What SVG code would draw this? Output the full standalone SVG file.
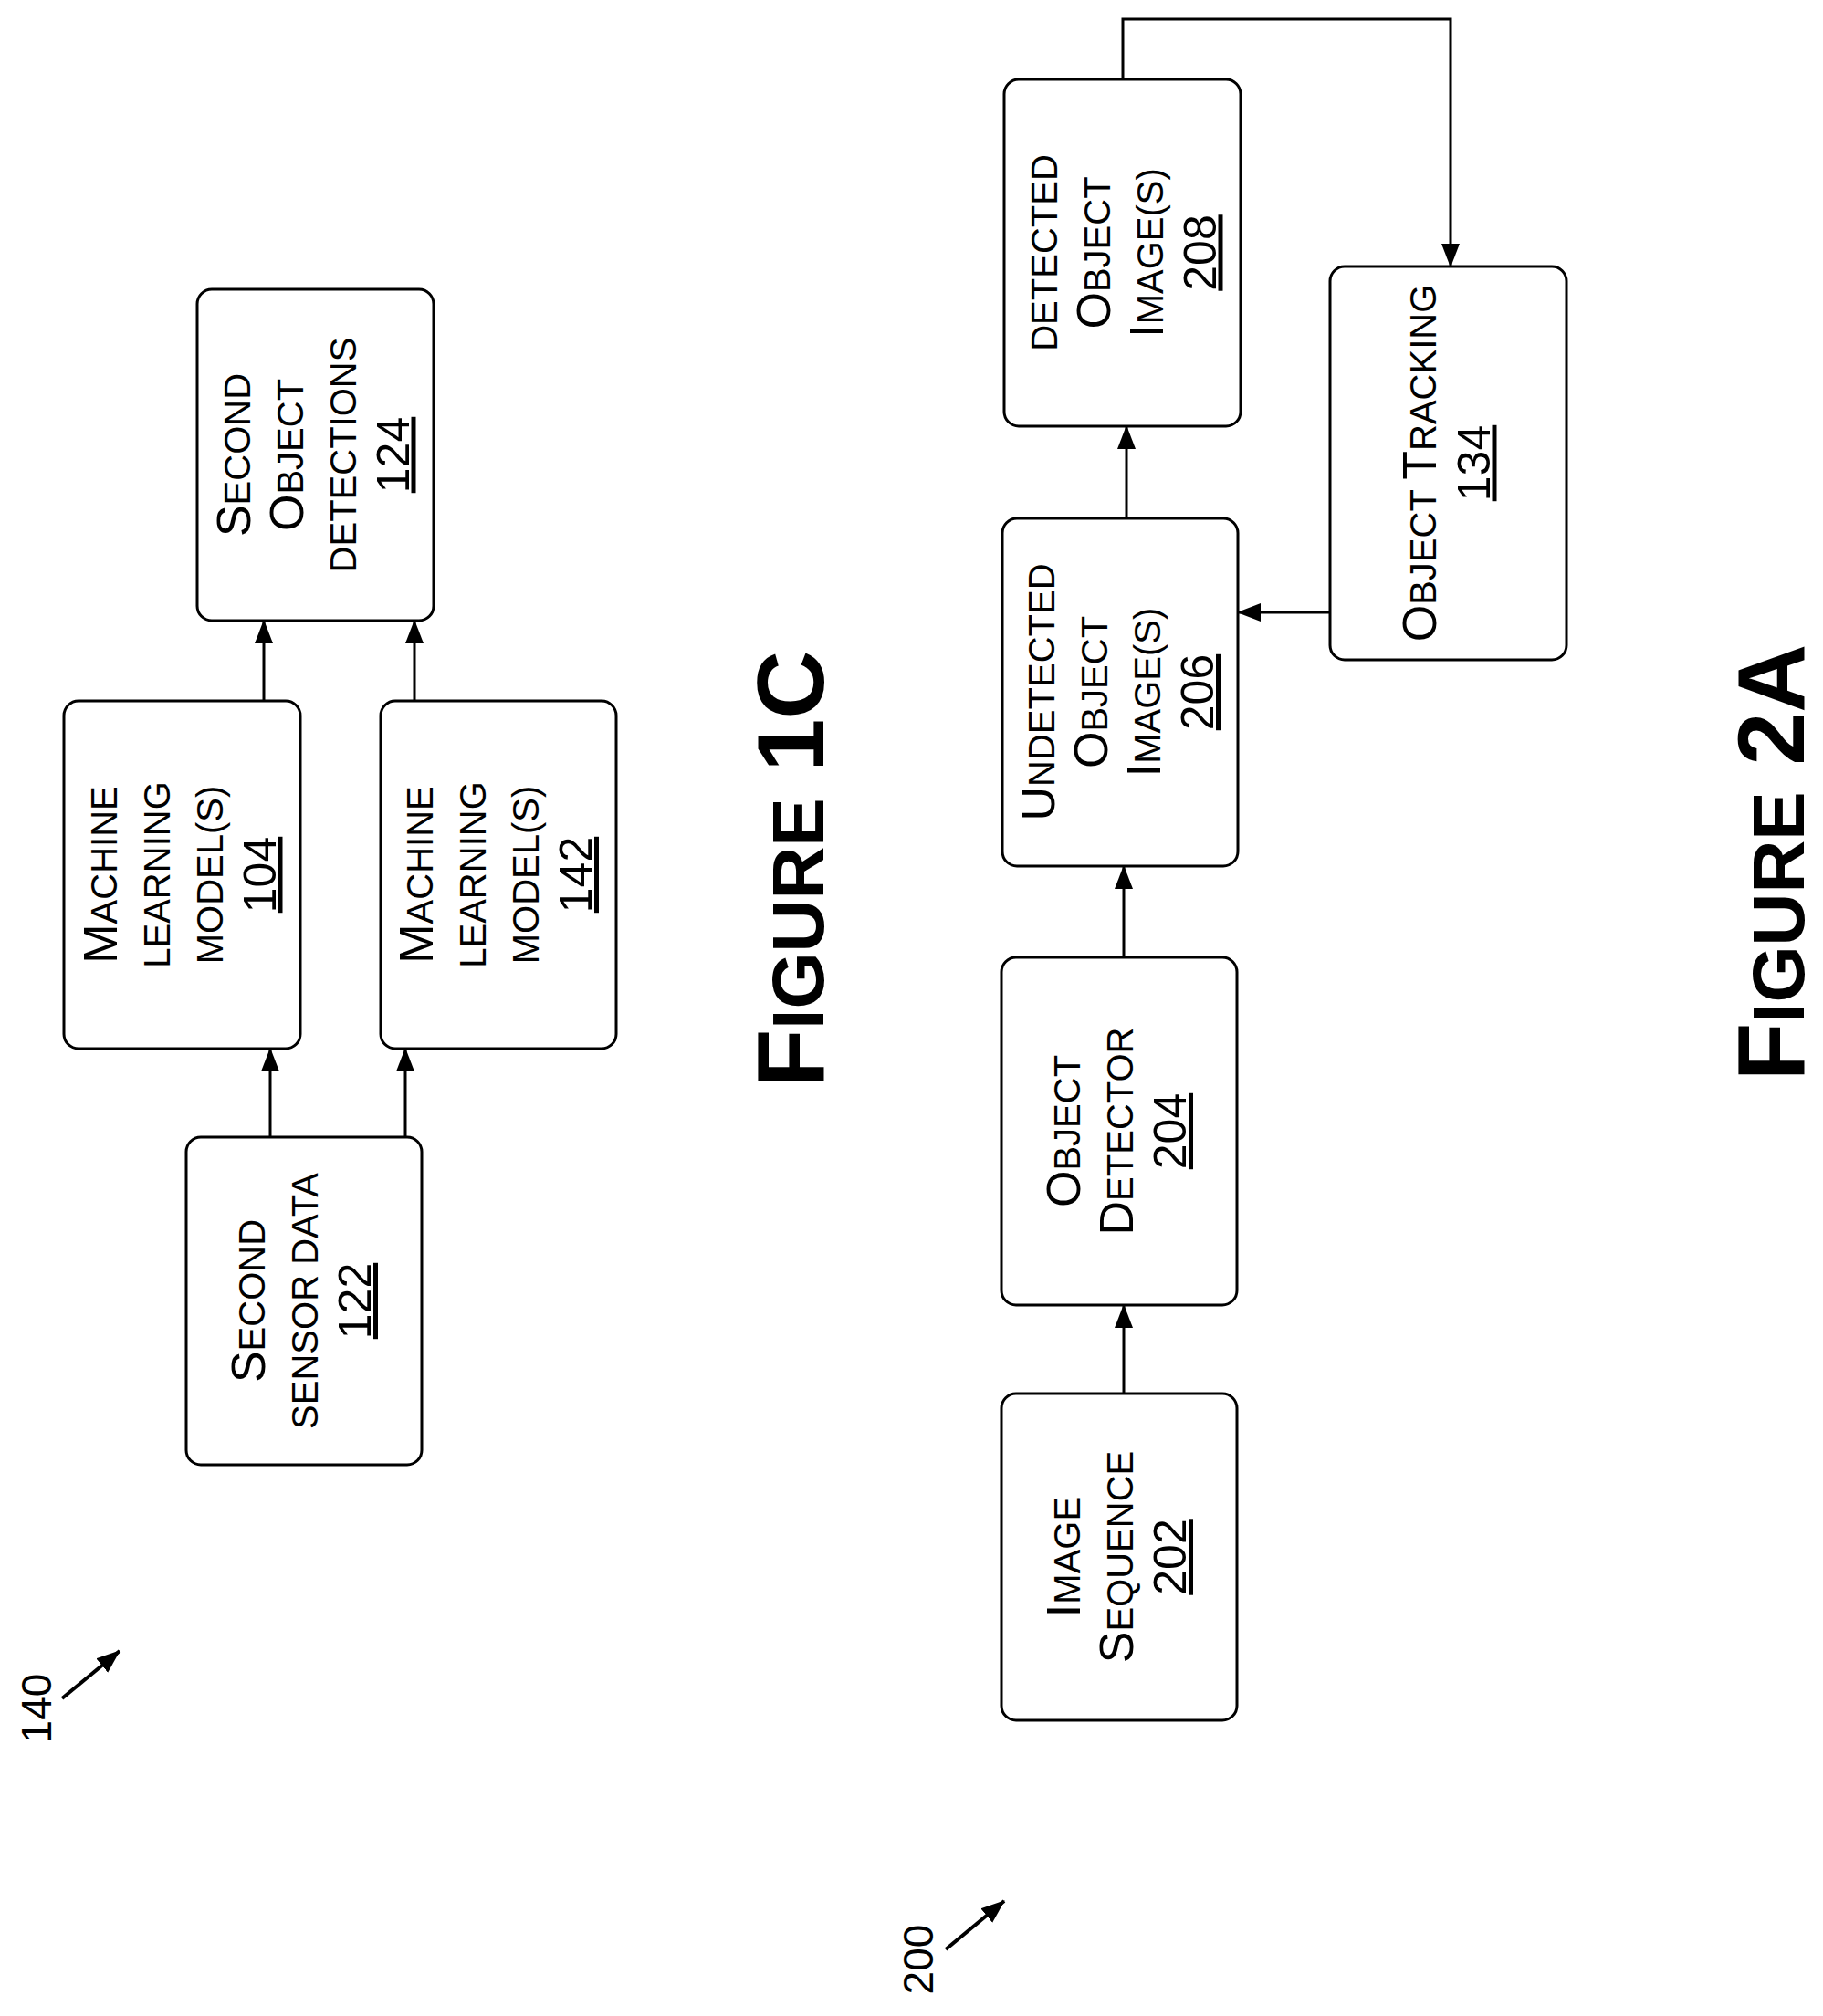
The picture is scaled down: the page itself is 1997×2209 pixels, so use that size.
<svg xmlns="http://www.w3.org/2000/svg" width="1997" height="2209" viewBox="0 0 1997 2209">
<style>
.box{fill:#fff;stroke:#000;stroke-width:3}
text{font-family:"Liberation Sans",Arial,sans-serif;fill:#000;text-anchor:middle}
.t{font-size:52px}
.sc{font-size:40px}
.n{font-size:50px;text-decoration:underline}
.fig{font-size:104px;font-weight:bold}
.figs{font-size:80px}
.lbl{font-size:46px}
.c{fill:none;stroke:#000;stroke-width:3}
.c2{fill:none;stroke:#000;stroke-width:4}
</style>
<defs>
<marker id="ah" markerUnits="userSpaceOnUse" markerWidth="26" markerHeight="22" refX="25" refY="10" orient="auto" viewBox="0 0 26 20">
<path d="M0,0 L26,10 L0,20 z" fill="#000"/>
</marker>
</defs>
<g id="connectors">
<line class="c" x1="296" y1="1246" x2="296" y2="1149" marker-end="url(#ah)"/>
<line class="c" x1="444" y1="1246" x2="444" y2="1149" marker-end="url(#ah)"/>
<line class="c" x1="289" y1="768" x2="289" y2="680" marker-end="url(#ah)"/>
<line class="c" x1="454" y1="768" x2="454" y2="680" marker-end="url(#ah)"/>
<line class="c" x1="1231" y1="1527" x2="1231" y2="1430" marker-end="url(#ah)"/>
<line class="c" x1="1231" y1="1049" x2="1231" y2="949" marker-end="url(#ah)"/>
<line class="c" x1="1234" y1="568" x2="1234" y2="467" marker-end="url(#ah)"/>
<line class="c" x1="1457" y1="671" x2="1356" y2="671" marker-end="url(#ah)"/>
<polyline class="c" points="1230,87 1230,21 1589,21 1589,292" marker-end="url(#ah)"/>
<line class="c2" x1="68" y1="1861" x2="131" y2="1809" marker-end="url(#ah)"/>
<line class="c2" x1="1036" y1="2136" x2="1100" y2="2083" marker-end="url(#ah)"/>
</g>
<g id="n124">
<rect class="box" x="216" y="317" width="259" height="363" rx="16"/>
<g transform="translate(345.5,498.5) rotate(-90)">
<text y="-72" class="t">S<tspan class="sc">ECOND</tspan></text>
<text y="-14" class="t">O<tspan class="sc">BJECT</tspan></text>
<text y="44" class="sc">DETECTIONS</text>
<text y="102" class="n">124</text>
</g>
</g>
<g id="n104">
<rect class="box" x="70" y="768" width="259" height="381" rx="16"/>
<g transform="translate(199.5,958.5) rotate(-90)">
<text y="-72" class="t">M<tspan class="sc">ACHINE</tspan></text>
<text y="-14" class="sc">LEARNING</text>
<text y="44" class="sc">MODEL(S)</text>
<text y="102" class="n">104</text>
</g>
</g>
<g id="n142">
<rect class="box" x="417" y="768" width="258" height="381" rx="16"/>
<g transform="translate(546,958.5) rotate(-90)">
<text y="-72" class="t">M<tspan class="sc">ACHINE</tspan></text>
<text y="-14" class="sc">LEARNING</text>
<text y="44" class="sc">MODEL(S)</text>
<text y="102" class="n">142</text>
</g>
</g>
<g id="n122">
<rect class="box" x="204" y="1246" width="258" height="359" rx="16"/>
<g transform="translate(333,1425.5) rotate(-90)">
<text y="-43" class="t">S<tspan class="sc">ECOND</tspan></text>
<text y="15" class="sc">SENSOR DATA</text>
<text y="73" class="n">122</text>
</g>
</g>
<g id="n202">
<rect class="box" x="1097" y="1527" width="258" height="358" rx="16"/>
<g transform="translate(1226,1706) rotate(-90)">
<text y="-43" class="t">I<tspan class="sc">MAGE</tspan></text>
<text y="15" class="t">S<tspan class="sc">EQUENCE</tspan></text>
<text y="73" class="n">202</text>
</g>
</g>
<g id="n204">
<rect class="box" x="1097" y="1049" width="258" height="381" rx="16"/>
<g transform="translate(1226,1239.5) rotate(-90)">
<text y="-43" class="t">O<tspan class="sc">BJECT</tspan></text>
<text y="15" class="t">D<tspan class="sc">ETECTOR</tspan></text>
<text y="73" class="n">204</text>
</g>
</g>
<g id="n206">
<rect class="box" x="1098" y="568" width="258" height="381" rx="16"/>
<g transform="translate(1227,758.5) rotate(-90)">
<text y="-72" class="t">U<tspan class="sc">NDETECTED</tspan></text>
<text y="-14" class="t">O<tspan class="sc">BJECT</tspan></text>
<text y="44" class="t">I<tspan class="sc">MAGE(S)</tspan></text>
<text y="102" class="n">206</text>
</g>
</g>
<g id="n208">
<rect class="box" x="1100" y="87" width="259" height="380" rx="16"/>
<g transform="translate(1229.5,277) rotate(-90)">
<text y="-72" class="sc">DETECTED</text>
<text y="-14" class="t">O<tspan class="sc">BJECT</tspan></text>
<text y="44" class="t">I<tspan class="sc">MAGE(S)</tspan></text>
<text y="102" class="n">208</text>
</g>
</g>
<g id="n134">
<rect class="box" x="1457" y="292" width="259" height="431" rx="16"/>
<g transform="translate(1586.5,507.5) rotate(-90)">
<text y="-14" class="t">O<tspan class="sc">BJECT </tspan>T<tspan class="sc">RACKING</tspan></text>
<text y="45" class="n">134</text>
</g>
</g>
<g id="labels">
<text class="fig" transform="translate(902,952) rotate(-90)">F<tspan class="figs">IGURE</tspan> 1C</text>
<text class="fig" transform="translate(1976,945) rotate(-90)">F<tspan class="figs">IGURE</tspan> 2A</text>
<text class="lbl" transform="translate(56,1872) rotate(-90)">140</text>
<text class="lbl" transform="translate(1022,2147) rotate(-90)">200</text>
</g>
</svg>
